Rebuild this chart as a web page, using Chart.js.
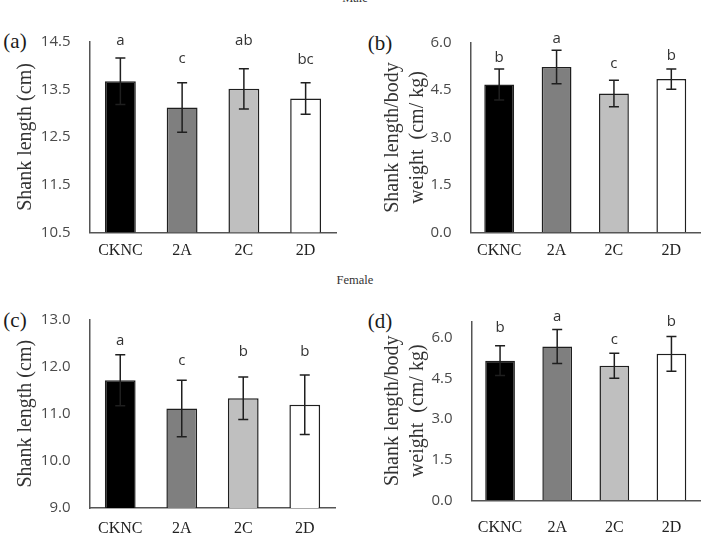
<!DOCTYPE html>
<html>
<head>
<meta charset="utf-8">
<script src="https://cdn.jsdelivr.net/npm/chart.js@4.4.1/dist/chart.umd.min.js"></script>
<style>
  body { margin: 0; background: #fff; width: 702px; height: 537px; position: relative; overflow: hidden; }
  canvas { position: absolute; }
  .tag { position: absolute; font-family: 'Liberation Serif', 'Times New Roman', serif; color: #1a1a1a; white-space: nowrap; transform: translate(-50%, -50%); line-height: 1; }
  .panel { font-size: 21px; }
  .sex { font-size: 12.5px; color: #333; }
</style>
</head>
<body>
<div class="tag sex" style="left:355px;top:-2px">Male</div>
<div class="tag sex" style="left:355px;top:280px">Female</div>
<div class="tag panel" style="left:15px;top:41px">(a)</div>
<div class="tag panel" style="left:380px;top:43px">(b)</div>
<div class="tag panel" style="left:15px;top:320px">(c)</div>
<div class="tag panel" style="left:380px;top:321px">(d)</div>

<canvas id="chartA" width="351" height="268" style="left:0;top:0"></canvas>
<canvas id="chartB" width="351" height="268" style="left:351px;top:0"></canvas>
<canvas id="chartC" width="351" height="269" style="left:0;top:268px"></canvas>
<canvas id="chartD" width="351" height="269" style="left:351px;top:268px"></canvas>

<script>
// data
const categories = ['CKNC', '2A', '2C', '2D'];

const maleLength = [13.67, 13.12, 13.51, 13.31];
const maleLengthErr = [0.49, 0.52, 0.42, 0.33];
const maleLengthLetters = ['a', 'c', 'ab', 'bc'];
const maleLengthLetterAt = [14.43, 14.05, 14.43, 14.03];
const maleLengthTicks = [10.5, 11.5, 12.5, 13.5, 14.5];

const maleRatio = [4.68, 5.23, 4.39, 4.85];
const maleRatioErr = [0.49, 0.53, 0.42, 0.32];
const maleRatioLetters = ['b', 'a', 'c', 'b'];
const maleRatioLetterAt = [5.40, 6.0, 5.19, 5.45];
const maleRatioTicks = [0, 1.5, 3.0, 4.5, 6.0];

const femaleLength = [11.71, 11.11, 11.33, 11.19];
const femaleLengthErr = [0.54, 0.60, 0.45, 0.63];
const femaleLengthLetters = ['a', 'c', 'b', 'b'];
const femaleLengthLetterAt = [12.46, 12.04, 12.22, 12.22];
const femaleLengthTicks = [9.0, 10.0, 11.0, 12.0, 13.0];

const femaleRatio = [5.15, 5.67, 4.96, 5.40];
const femaleRatioErr = [0.55, 0.63, 0.46, 0.64];
const femaleRatioLetters = ['b', 'a', 'c', 'b'];
const femaleRatioLetterAt = [6.19, 6.62, 5.78, 6.43];
const femaleRatioTicks = [0, 1.5, 3.0, 4.5, 6.0];

const fills = ['#000000', '#7f7f7f', '#bfbfbf', '#ffffff'];
const axisColor = '#555555';

// error bars + significance letters
const errorBars = {
    id: 'errorBars',
    afterDatasetsDraw(chart, args, opts) {
        let ctx = chart.ctx
        let y = chart.scales.y
        let meta = chart.getDatasetMeta(0)
        let vals = chart.data.datasets[0].data
        ctx.save()
        ctx.strokeStyle = '#1f1f1f'
        ctx.lineWidth = 1.5
        opts.err.forEach((e, i) => {
            let cx = meta.data[i].x
            let top = y.getPixelForValue(vals[i] + e)
            let bot = y.getPixelForValue(vals[i] - e)
            ctx.beginPath()
            ctx.moveTo(cx, top); ctx.lineTo(cx, bot)
            ctx.moveTo(cx - 5, top); ctx.lineTo(cx + 5, top)
            ctx.moveTo(cx - 5, bot); ctx.lineTo(cx + 5, bot)
            ctx.stroke()
        })
        ctx.fillStyle = '#333'
        ctx.font = '15px "Open Sans"'
        ctx.textAlign = 'center'
        ctx.textBaseline = 'alphabetic'
        opts.letters.forEach((t, i) => {
            ctx.fillText(t, meta.data[i].x, y.getPixelForValue(opts.letterAt[i]))
        })
        ctx.restore()
    }
}

function makePanel(id, p) {
    return new Chart(document.getElementById(id), {
        type: 'bar',
        data: {
            labels: categories,
            datasets: [{
                data: p.values,
                backgroundColor: fills,
                borderColor: '#1f1f1f',
                borderWidth: 1.5,
                barPercentage: p.barPct,
                categoryPercentage: 1
            }]
        },
        plugins: [errorBars],
        options: {
            responsive: false,
            animation: false,
            layout: { padding: { top: p.padTop, right: p.padRight, left: 0, bottom: 0 } },
            plugins: {
                legend: { display: false },
                tooltip: { enabled: false },
                errorBars: { err: p.err, letters: p.letters, letterAt: p.letterAt }
            },
            scales: {
                x: {
                    grid: { display: false, drawTicks: false },
                    border: { color: axisColor, width: 1.5 },
                    ticks: {
                        color: '#222',
                        padding: p.xPad,
                        font: { family: "'Liberation Serif', 'Times New Roman', serif", size: 16 }
                    },
                    afterFit: (s) => { s.height = p.axisH }
                },
                y: {
                    min: p.min,
                    max: p.max,
                    grid: { display: false, drawTicks: false },
                    border: { color: axisColor, width: 1.5 },
                    ticks: {
                        color: '#4a4a4a',
                        padding: 19,
                        font: { family: "'Open Sans'", size: 15 },
                        callback: (v) => Number(v).toFixed(1)
                    },
                    afterBuildTicks: (s) => { s.ticks = p.ticks.map(v => ({ value: v })) },
                    title: {
                        display: true,
                        text: p.title,
                        color: '#333',
                        padding: { top: p.titlePad, bottom: 0 },
                        font: { family: "'Liberation Serif', 'Times New Roman', serif", size: 20, lineHeight: 1.25 }
                    },
                    afterFit: (s) => { s.width = p.axisW }
                }
            }
        }
    })
}

makePanel('chartA', {
    values: maleLength, err: maleLengthErr, letters: maleLengthLetters, letterAt: maleLengthLetterAt,
    ticks: maleLengthTicks, min: 10.5, max: 14.5, title: 'Shank length (cm)',
    axisW: 89.5, axisH: 35.7, padTop: 41.7, padRight: 14.5, titlePad: 13.5, xPad: 9, barPct: 0.5
})
makePanel('chartB', {
    values: maleRatio, err: maleRatioErr, letters: maleRatioLetters, letterAt: maleRatioLetterAt,
    ticks: maleRatioTicks, min: 0, max: 6.0, title: ['Shank length/body', 'weight  (cm/ kg)'],
    axisW: 119.5, axisH: 35.7, padTop: 42.7, padRight: 2, titlePad: 29.2, xPad: 9, barPct: 0.52
})
makePanel('chartC', {
    values: femaleLength, err: femaleLengthErr, letters: femaleLengthLetters, letterAt: femaleLengthLetterAt,
    ticks: femaleLengthTicks, min: 9.0, max: 13.0, title: 'Shank length (cm)',
    axisW: 89.5, axisH: 29, padTop: 51.5, padRight: 15.5, titlePad: 13.5, xPad: 11, barPct: 0.5
})
makePanel('chartD', {
    values: femaleRatio, err: femaleRatioErr, letters: femaleRatioLetters, letterAt: femaleRatioLetterAt,
    ticks: femaleRatioTicks, min: 0, max: 6.6, title: ['Shank length/body', 'weight  (cm/ kg)'],
    axisW: 120.5, axisH: 36.7, padTop: 53.3, padRight: 2, titlePad: 29.2, xPad: 18, barPct: 0.52
})
</script>
</body>
</html>
